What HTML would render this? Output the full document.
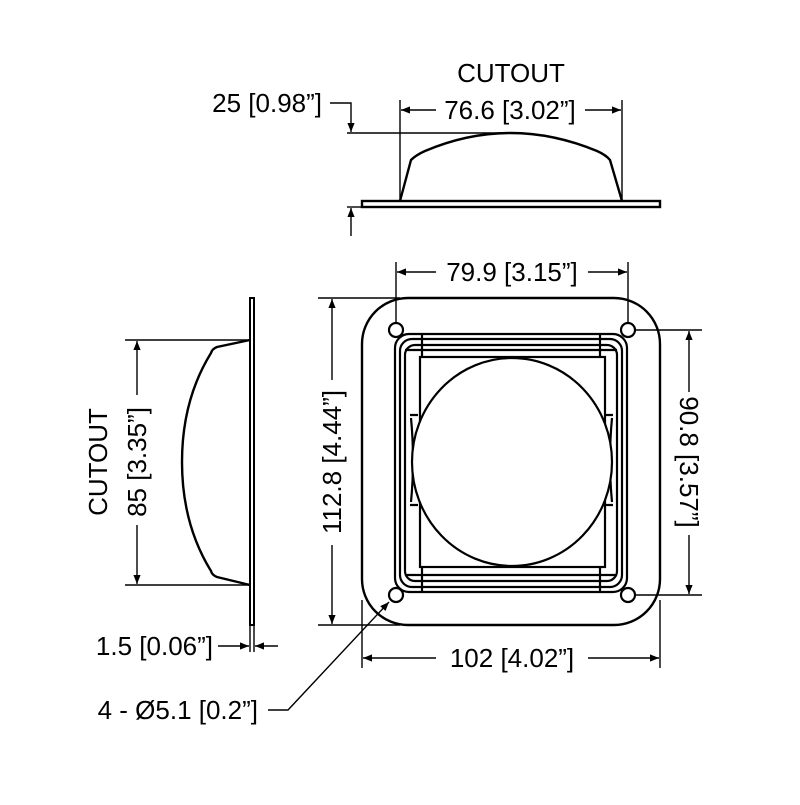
<!DOCTYPE html>
<html><head><style>html,body{margin:0;padding:0;background:#fff}</style></head><body>
<svg width="800" height="800" viewBox="0 0 800 800" xmlns="http://www.w3.org/2000/svg" font-family="Liberation Sans, sans-serif" fill="none" stroke="#000">
<defs>
<marker id="a" viewBox="0 0 10 10" refX="10" refY="5" markerWidth="14" markerHeight="9" markerUnits="userSpaceOnUse" orient="auto"><path d="M0,1L10,5L0,9z" fill="#000" stroke="none"/></marker>
</defs>
<g stroke-width="1.4">
<!-- top view -->
<rect x="362" y="201" width="298" height="6" stroke-width="2.4"/>
<path d="M400,201 L411,160 Q416,155 425,151 Q510,115 597,151 Q606,155 610,160 L622,201" stroke-width="2.4"/>
<line x1="400" y1="100" x2="400" y2="201"/>
<line x1="622" y1="100" x2="622" y2="201"/>
<line x1="436" y1="110" x2="401" y2="110" marker-end="url(#a)"/>
<line x1="585" y1="110" x2="621" y2="110" marker-end="url(#a)"/>
<line x1="347" y1="133" x2="512" y2="133"/>
<polyline points="330,103 351,103 351,132" marker-end="url(#a)"/>
<line x1="347" y1="207" x2="362" y2="207"/>
<line x1="351" y1="236" x2="351" y2="208" marker-end="url(#a)"/>
<!-- front view -->
<rect x="362" y="298" width="298" height="327" rx="46" stroke-width="2.4"/>
<circle cx="396" cy="330" r="7" stroke-width="2.2"/>
<circle cx="628" cy="330" r="7" stroke-width="2.2"/>
<circle cx="396" cy="595" r="7" stroke-width="2.2"/>
<circle cx="628" cy="595" r="7" stroke-width="2.2"/>
<g stroke-width="2.2">
<rect x="395" y="334" width="232" height="258" rx="14"/>
<rect x="400" y="339" width="222" height="248" rx="12"/>
<rect x="405" y="345" width="212" height="236" rx="10"/>
<rect x="420" y="357" width="185" height="210"/>
<line x1="422" y1="334" x2="422" y2="357"/><line x1="600" y1="334" x2="600" y2="357"/>
<line x1="422" y1="567" x2="422" y2="592"/><line x1="600" y1="567" x2="600" y2="592"/>
<line x1="405" y1="350" x2="617" y2="350"/><line x1="405" y1="575" x2="617" y2="575"/>
<path d="M410,415 L418,415 M410,505 L418,505 M604,415 L613,415 M604,505 L613,505"/>
<path d="M411,418 Q415,460 411,502 M612,418 Q608,460 612,502"/>
<ellipse cx="512" cy="462" rx="100" ry="104" fill="#fff"/>
</g>
<line x1="396" y1="262" x2="396" y2="323"/>
<line x1="628" y1="262" x2="628" y2="323"/>
<line x1="436" y1="272" x2="397" y2="272" marker-end="url(#a)"/>
<line x1="588" y1="272" x2="627" y2="272" marker-end="url(#a)"/>
<line x1="318" y1="298" x2="400" y2="298"/>
<line x1="318" y1="625" x2="400" y2="625"/>
<line x1="332" y1="380" x2="332" y2="299" marker-end="url(#a)"/>
<line x1="332" y1="545" x2="332" y2="624" marker-end="url(#a)"/>
<line x1="635" y1="330" x2="702" y2="330"/>
<line x1="635" y1="595" x2="702" y2="595"/>
<line x1="689" y1="392" x2="689" y2="331" marker-end="url(#a)"/>
<line x1="689" y1="535" x2="689" y2="594" marker-end="url(#a)"/>
<line x1="362" y1="600" x2="362" y2="668"/>
<line x1="660" y1="600" x2="660" y2="668"/>
<line x1="436" y1="658" x2="363" y2="658" marker-end="url(#a)"/>
<line x1="588" y1="658" x2="659" y2="658" marker-end="url(#a)"/>
<!-- side view -->
<rect x="250" y="298" width="4" height="327" stroke-width="2"/>
<path d="M250,340 L217,347 Q212,349 211,353 Q182,400 182,462 Q182,524 211,571 Q212,575 217,577 L250,585" stroke-width="2.4"/>
<line x1="125" y1="340" x2="250" y2="340"/>
<line x1="125" y1="585" x2="250" y2="585"/>
<line x1="137" y1="395" x2="137" y2="341" marker-end="url(#a)"/>
<line x1="137" y1="525" x2="137" y2="584" marker-end="url(#a)"/>
<line x1="250" y1="625" x2="250" y2="652"/>
<line x1="254" y1="625" x2="254" y2="652"/>
<line x1="218" y1="646" x2="249" y2="646" marker-end="url(#a)"/>
<line x1="278" y1="646" x2="255" y2="646" marker-end="url(#a)"/>
<polyline points="268,710 288,710 389,602" marker-end="url(#a)"/>
</g>
<g fill="#000" stroke="none" font-size="26">
<text x="511" y="82" text-anchor="middle">CUTOUT</text>
<text x="510" y="119" text-anchor="middle">76.6 [3.02”]</text>
<text x="322" y="112" text-anchor="end">25 [0.98”]</text>
<text x="512" y="281" text-anchor="middle">79.9 [3.15”]</text>
<text x="512" y="667" text-anchor="middle">102 [4.02”]</text>
<text transform="translate(341,462) rotate(-90)" text-anchor="middle">112.8 [4.44”]</text>
<text transform="translate(680,462) rotate(90)" text-anchor="middle">90.8 [3.57”]</text>
<text transform="translate(146,462) rotate(-90)" text-anchor="middle">85 [3.35”]</text>
<text transform="translate(107,462) rotate(-90)" text-anchor="middle">CUTOUT</text>
<text x="213" y="655" text-anchor="end">1.5 [0.06”]</text>
<text x="258" y="719" text-anchor="end">4 - Ø5.1 [0.2”]</text>
</g>
</svg>
</body></html>
